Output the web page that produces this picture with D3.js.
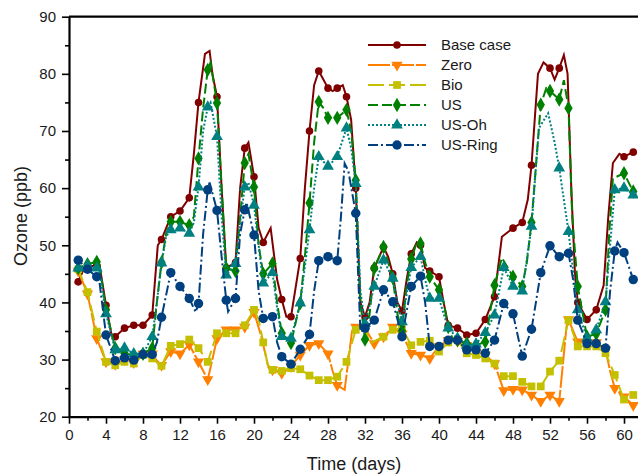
<!DOCTYPE html>
<html>
<head>
<meta charset="utf-8">
<script src="https://cdn.jsdelivr.net/npm/d3@7"></script>
<style>
  body { margin: 0; background: #fff; }
  text { font-family: Arial, "Liberation Sans", sans-serif; fill: #1a1a1a; }
</style>
</head>
<body>
<div id="chart"></div>
<script>
// [day, ozone ppb]
var baseCase = [[0.6,43.5],[1,43.6],[1.5,45.5],[2,46.2],[3,46.5],[3.3,46.5],[4,39.5],[4.6,34.3],[5,34],[6,35.5],[7,36],[8,36],[9,37.8],[9.6,50],[10,51],[11,55],[12,56],[13,58.3],[13.5,66],[14,75],[14.7,83.5],[15.2,84],[15.5,80],[16,76],[16.5,60],[17,46],[18,47],[18.5,60],[19,67],[19.4,68],[20,62],[20.5,53],[21,50.5],[21.8,53],[22.5,44],[23,40.5],[23.5,37.5],[24,37.5],[25,47.7],[25.5,60],[26,70],[26.5,78],[27,80.5],[27.5,79],[28,77.5],[28.5,77],[29,77.5],[29.6,78],[30,76],[30.5,72],[31,60],[31.5,40],[32,37.5],[32.5,40],[33,46],[34,49.7],[34.5,48],[35,45],[35.5,40],[36,38.5],[36.5,44],[37,48.5],[37.6,50.5],[38,50],[38.5,46],[39,45.5],[40,44.5],[40.5,40],[41,36],[42,35.5],[43,34.3],[44,34.6],[45,37],[46,41],[46.8,51.5],[48,53],[49,54],[49.6,58],[50,64],[50.7,80],[51.3,82],[52,81],[52.5,79],[53,81],[53.5,83.3],[53.9,80],[54.3,60],[54.7,45],[55,40],[56,37],[57,38.7],[57.8,43],[58.3,55],[58.8,64.4],[59.5,66],[60,65.5],[61,66.3]];
var zero = [[0.6,45.5],[1,45.5],[1.5,43.5],[2,41.5],[3,33.7],[4,29.6],[5,29.2],[6,30],[7,29.5],[8,31],[9,31],[9.5,29.8],[10,29],[11,31.4],[12,31],[13,32.6],[14,29.6],[15,26.5],[15.5,30],[16,33.7],[17,35.2],[18,35.2],[19,35.7],[20,38.3],[20.8,34],[21.5,29],[22,28.2],[23,27.6],[24,28.8],[25,30.8],[26,32.5],[27,32.8],[28,31],[28.5,28],[29,25.5],[29.8,24.7],[30.6,35],[31,35.7],[32,35.5],[33,32.8],[34,34],[35,35.7],[36,34.5],[37,31.1],[38,30.8],[39,30.2],[40,32.3],[41,33.4],[42,33.2],[43,32.5],[44,31.3],[45,30.8],[46,29.3],[47,24.6],[48,24.8],[49,24.7],[50,23.8],[51,22.7],[52,23.8],[53,22.7],[53.4,29.3],[53.8,36],[54,37],[55,33.1],[56,33],[57,33],[58,31.7],[58.5,28],[59,25],[60,23.5],[61,22]];
var bio = [[0.6,45.5],[1,45.8],[2,41.8],[3,34.9],[4,29.6],[5,29],[6,29.6],[7,29.3],[8,30.8],[9,30.2],[10,28.9],[11,32.4],[12,32.7],[13,33.5],[14,32],[15,29.6],[16,34.6],[17,34.6],[18,34.6],[19,36],[20,38.7],[20.5,37],[21,33],[21.5,29],[22,28.2],[23,28],[24,28.5],[25,28.3],[26,27.2],[27,26.4],[28,26.4],[29,27],[30,29.6],[31,35.2],[32,35.5],[32.5,32.8],[34,34],[35,35.2],[36,35.5],[37,32.5],[38,33.1],[39,33.3],[40,31.4],[41,33],[42,33.4],[43,31.1],[44,30.8],[45,30.2],[46,29.3],[47,27.1],[48,27.1],[49,26.1],[50,25.3],[51,25.3],[52,27.9],[53,29.8],[54,36.9],[55,32.3],[56,32.3],[57,32.3],[58,31.1],[59,27.3],[60,23],[61,23.8]];
var us = [[0.6,45.5],[1,46],[2,46.7],[3,47.1],[3.3,46.5],[4,38.7],[5,32],[6,31.1],[7,30.7],[8,31],[9,32],[9.5,40],[10,47],[10.5,52],[11,54.1],[12,54.1],[13,53.5],[13.5,55],[14,65.2],[14.5,74],[15,80.7],[15.3,82],[15.6,79],[16,74.9],[16.5,60],[17,46],[18,45.5],[18.5,55],[19,64.4],[19.4,66],[20,60.2],[20.5,50],[21,45],[22,46.8],[22.5,40],[23,34.6],[24,32.9],[25,39.9],[25.5,48],[26,57.4],[26.5,68],[27,75.1],[27.5,74],[28,72.3],[29,72.3],[30,73.7],[30.5,70],[31,61.4],[31.5,40],[32,33.5],[32.5,38],[33,46],[34,49.7],[35,44.3],[35.5,38],[36,35],[36.5,43],[37,47.6],[37.5,50],[38,50.3],[38.5,47],[39,44.5],[40,42.2],[40.5,40],[41,35.7],[41.5,33.5],[42,33.4],[43,32.8],[44,32.5],[45,33.1],[45.5,38],[46,43],[46.8,47.8],[48,44.5],[49,42.8],[49.5,47],[50,54],[51,74.6],[51.6,77.5],[52,77],[53,75.5],[53.5,78.9],[54,74],[54.4,55],[55,42.8],[56,34],[57,34.5],[58,38.7],[58.4,52],[58.8,61.7],[60,62.6],[61,59.4]];
var usOh = [[0.6,45.5],[1,46],[2,46.5],[3,46],[3.3,45.5],[4,38],[5,31.7],[6,32],[7,31],[8,31],[9,34],[9.5,40],[10,46.9],[10.5,51.5],[11,52.7],[12,53],[13,52.1],[13.5,54],[14,60.2],[14.5,70],[15,74.2],[15.3,75],[16,69],[16.5,55],[17,44.8],[18,46.8],[18.5,54],[19,60.2],[19.4,61],[20,57],[20.5,50],[21,43.4],[22,45.2],[22.5,39],[23,34],[24,33.7],[25,39.9],[26,52.7],[26.5,60],[27,65.5],[28,63.8],[29,65.5],[30,70.5],[30.5,67],[31,60.8],[31.5,42],[32,36.3],[33,42.8],[34,47.4],[35,44.2],[35.5,40],[36,36.6],[37,46.1],[38,48],[38.5,44],[39,40.7],[40,40.7],[40.5,38],[41,35.5],[42,33.7],[43,32.5],[44,32.7],[45,34.7],[46,37.8],[47,46.1],[48,42.8],[49,42],[50,53.3],[50.8,70.5],[51.8,73.1],[52.5,68],[53,63.5],[54,52.4],[55,38.7],[56,33.7],[57,35.2],[58,40.1],[58.5,50],[59,59.7],[60,60],[61,58.8]];
var usRing = [[0.6,47],[1,47.4],[2,45.8],[3,44.5],[3.3,43.5],[4,34.3],[5,29.8],[6,30.3],[7,29.9],[8,30.9],[9,30.9],[9.5,33],[10,37.4],[11,45.2],[12,42.8],[13,40.7],[13.7,38.3],[14,39.8],[14.5,52],[15,59.7],[15.2,61],[16,56.1],[16.5,48],[17,40.4],[17.2,38.4],[18,40.7],[18.5,52],[19,56.2],[19.2,57.5],[20,51.8],[20.5,42],[21,37.2],[22,37.5],[22.5,33],[23,30.5],[24,29.2],[25,31.8],[26,34.4],[26.5,42],[27,47.3],[28,48],[29,47.3],[29.4,55],[29.8,64.3],[30.2,63],[31,55.6],[31.5,35],[32,35.5],[33,36.9],[34,42.2],[35,40.1],[36,34],[37,42.8],[38,44.6],[38.5,40],[39,32.3],[40,32.3],[41,33.4],[42,33.4],[43,31.7],[44,31.7],[45,31.1],[46,33.4],[47,39.8],[48,38],[49,30.6],[50,35.3],[51,45.2],[52,49.9],[53,48],[54,48.6],[54.5,44],[55,36.9],[56,32.8],[57,32.8],[58,32],[58.5,42],[59,49],[59.3,50.5],[60,48.7],[61,44]];

var seriesNames = ["Base case", "Zero", "Bio", "US", "US-Oh", "US-Ring"];
var seriesData = [baseCase, zero, bio, us, usOh, usRing];
var colors = ["#800000", "#ff8000", "#c4c000", "#008000", "#008080", "#00407f"];
var dashes = [null, "22,2", "16,5", "10,4", "2,2", "10,3,2,3"];
var symbols = [d3.symbolCircle, d3.symbolTriangle, d3.symbolSquare, d3.symbolDiamond, d3.symbolTriangle, d3.symbolCircle];
var symSizes = [45, 55, 60, 60, 60, 70];
var symRotate = [0, 180, 0, 0, 0, 0];

var width = 638, height = 474;
var margin = {top: 16.7, left: 69, bottom: 57.3};

var x = d3.scaleLinear().domain([0, 62]).range([margin.left, margin.left + 62 * 9.25]);
var y = d3.scaleLinear().domain([20, 90]).range([height - margin.bottom, margin.top]);

var svg = d3.select("#chart").append("svg")
    .attr("width", width)
    .attr("height", height);

// axes
var xAxis = svg.append("g")
    .attr("transform", "translate(0," + y(20) + ")")
    .call(d3.axisBottom(x).tickValues(d3.range(0, 62, 4)).tickSize(7).tickSizeOuter(0).tickPadding(6));
svg.append("g")
    .attr("transform", "translate(0," + y(20) + ")")
    .call(d3.axisBottom(x).tickValues(d3.range(2, 62, 4)).tickSize(4).tickSizeOuter(0).tickFormat(""))
    .select(".domain").remove();
var yAxis = svg.append("g")
    .attr("transform", "translate(" + x(0) + ",0)")
    .call(d3.axisLeft(y).tickValues(d3.range(20, 91, 10)).tickSize(7).tickSizeOuter(0).tickPadding(6));
svg.append("g")
    .attr("transform", "translate(" + x(0) + ",0)")
    .call(d3.axisLeft(y).tickValues(d3.range(25, 90, 10)).tickSize(4).tickSizeOuter(0).tickFormat(""))
    .select(".domain").remove();

svg.selectAll(".domain").attr("stroke", "#000").attr("stroke-width", 2.2);
svg.selectAll(".tick line").attr("stroke", "#000").attr("stroke-width", 1.6);
svg.selectAll(".tick text").style("font-size", "15px").style("font-family", "Arial, 'Liberation Sans', sans-serif").attr("fill", "#1a1a1a");

// top frame line
svg.append("line")
    .attr("x1", x(0)).attr("x2", width)
    .attr("y1", y(90)).attr("y2", y(90))
    .attr("stroke", "#000").attr("stroke-width", 2.2);

svg.append("text")
    .attr("x", 354).attr("y", 470)
    .attr("text-anchor", "middle")
    .style("font-size", "18px")
    .text("Time (days)");
svg.append("text")
    .attr("transform", "translate(27,216) rotate(-90)")
    .attr("text-anchor", "middle")
    .style("font-size", "18px")
    .text("Ozone (ppb)");

var line = d3.line()
    .x(function(d) { return x(d[0]); })
    .y(function(d) { return y(d[1]); });

seriesData.forEach(function(data, i) {
  var g = svg.append("g");
  g.append("path")
      .datum(data)
      .attr("d", line)
      .attr("fill", "none")
      .attr("stroke", colors[i])
      .attr("stroke-width", 2)
      .attr("stroke-dasharray", dashes[i]);
  g.selectAll("path.mk")
      .data(data.filter(function(d) { return d[0] % 1 === 0; }))
    .enter().append("path")
      .attr("class", "mk")
      .attr("d", d3.symbol().type(symbols[i]).size(symSizes[i]))
      .attr("transform", function(d) { return "translate(" + x(d[0]) + "," + y(d[1]) + ") rotate(" + symRotate[i] + ")"; })
      .attr("fill", colors[i]);
});

// legend
var legend = svg.append("g");
seriesNames.forEach(function(name, i) {
  var ly = 45 + i * 20;
  legend.append("line")
      .attr("x1", 368).attr("x2", 426)
      .attr("y1", ly).attr("y2", ly)
      .attr("stroke", colors[i])
      .attr("stroke-width", 2)
      .attr("stroke-dasharray", dashes[i]);
  legend.append("path")
      .attr("d", d3.symbol().type(symbols[i]).size(symSizes[i]))
      .attr("transform", "translate(397," + ly + ") rotate(" + symRotate[i] + ")")
      .attr("fill", colors[i]);
  legend.append("text")
      .attr("x", 441).attr("y", ly + 5)
      .style("font-size", "15px")
      .text(name);
});
</script>
</body>
</html>
